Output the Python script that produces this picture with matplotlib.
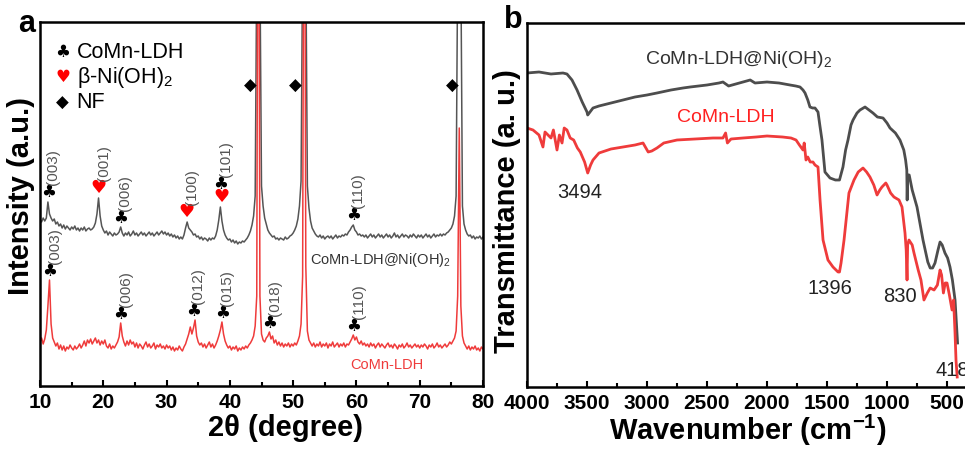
import numpy as np
import matplotlib.pyplot as plt
from matplotlib.ticker import MultipleLocator

plt.rcParams['font.family'] = ['Liberation Sans', 'DejaVu Sans']
plt.rcParams['mathtext.fontset'] = 'custom'
plt.rcParams['mathtext.rm'] = 'Liberation Sans'
plt.rcParams['mathtext.it'] = 'Liberation Sans:italic'
plt.rcParams['mathtext.bf'] = 'Liberation Sans:bold'

# ---------------- XRD data (2theta scan, 0.25 deg step) ----------------
two_theta = np.arange(10, 80.001, 0.25)

xrd_composite = [
    166, 164, 168, 165, 168, 184, 172, 168, 165, 167, 162, 164, 160, 162, 158, 161, 157, 160, 158, 156,  # 10
    159, 157, 160, 156, 158, 155, 158, 156, 159, 155, 157, 158, 156, 157, 159, 163, 172, 188, 170, 160,  # 15
    156, 153, 155, 151, 154, 152, 150, 153, 151, 152, 154, 159, 153, 150, 153, 151, 154, 150, 152, 155,  # 20
    151, 153, 150, 152, 154, 151, 153, 150, 152, 154, 151, 153, 150, 152, 154, 151, 153, 155, 152, 154,  # 25
    151, 153, 150, 152, 149, 151, 148, 150, 147, 149, 147, 151, 158, 164, 158, 156, 154, 151, 152, 149,  # 30
    150, 147, 149, 146, 148, 147, 145, 148, 146, 148, 147, 150, 156, 166, 179, 165, 156, 151, 148, 146,  # 35
    147, 144, 146, 143, 145, 142, 144, 143, 145, 144, 146, 148, 151, 155, 161, 170, 190, 420, 700, 420,  # 40
    200, 180, 168, 162, 156, 153, 151, 149, 150, 147, 148, 146, 148, 147, 146, 149, 147, 148, 150, 151,  # 45
    153, 156, 160, 167, 180, 205, 430, 700, 430, 200, 178, 165, 158, 155, 152, 150, 149, 151, 148, 150,  # 50
    147, 149, 150, 148, 150, 147, 149, 151, 148, 150, 149, 151, 150, 152, 151, 154, 156, 159, 161, 156,  # 55
    154, 151, 152, 150, 151, 149, 151, 148, 150, 152, 149, 151, 148, 150, 152, 149, 151, 148, 150, 152,  # 60
    149, 151, 148, 150, 153, 149, 151, 148, 150, 152, 149, 151, 150, 148, 151, 149, 152, 150, 148, 151,  # 65
    149, 151, 148, 150, 152, 149, 151, 148, 150, 152, 149, 151, 150, 152, 150, 152, 151, 153, 154, 156,  # 70
    158, 162, 170, 190, 420, 700, 420, 180, 162, 156, 152, 150, 151, 148, 150, 147, 149, 148, 150, 147,  # 75
    149,
]

xrd_ldh = [
    44, 48, 42, 47, 56, 80, 106, 62, 48, 44, 40, 43, 37, 41, 36, 40, 35, 39, 37, 41,  # 10
    38, 36, 40, 37, 39, 42, 38, 41, 45, 40, 46, 43, 47, 42, 45, 48, 43, 46, 41, 45,  # 15
    42, 46, 40, 38, 42, 37, 40, 38, 41, 44, 49, 63, 50, 44, 40, 45, 41, 46, 42, 44,  # 20
    39, 43, 38, 42, 40, 37, 41, 44, 39, 42, 38, 40, 43, 37, 41, 39, 42, 38, 40, 37,  # 25
    41, 38, 40, 36, 39, 35, 38, 36, 40, 37, 35, 39, 42, 47, 52, 59, 52, 58, 66, 50,  # 30
    44, 41, 43, 39, 42, 38, 41, 44, 39, 42, 38, 41, 45, 50, 56, 64, 52, 45, 41, 38,  # 35
    40, 36, 39, 37, 40, 35, 38, 36, 39, 37, 40, 38, 41, 43, 46, 50, 60, 90, 700, 90,  # 40
    52, 46, 44, 48, 50, 54, 47, 50, 43, 46, 41, 44, 40, 43, 39, 42, 40, 43, 39, 42,  # 45
    40, 43, 41, 45, 50, 62, 110, 700, 120, 55, 46, 43, 40, 43, 39, 42, 40, 44, 39, 42,  # 50
    40, 43, 38, 42, 40, 44, 39, 41, 43, 39, 42, 40, 43, 39, 42, 41, 44, 47, 51, 46,  # 55
    49, 44, 42, 45, 41, 43, 40, 42, 39, 43, 40, 42, 38, 41, 43, 39, 42, 40, 38, 41,  # 60
    43, 39, 41, 38, 42, 40, 37, 41, 39, 42, 38, 40, 43, 39, 41, 38, 40, 42, 39, 41,  # 65
    38, 41, 39, 42, 40, 37, 41, 39, 42, 38, 40, 43, 39, 41, 38, 40, 42, 39, 41, 44,  # 70
    42, 45, 48, 55, 90, 258, 80, 50, 43, 40, 37, 40, 36, 39, 37, 40, 36, 38, 35, 39,  # 75
    37,
]

# peak indexing
comp_peak_2t = [11.3, 19.3, 22.7, 33.2, 38.6, 59.5]
comp_peak_I = [184, 188, 158, 164, 179, 161]
comp_peak_hkl = ["(003)", "(001)", "(006)", "(100)", "(101)", "(110)"]
comp_peak_phase = ["ldh", "ni", "ldh", "ni", "both", "ldh"]

ldh_peak_2t = [11.5, 22.8, 34.2, 38.8, 46.3, 59.6]
ldh_peak_I = [106, 63, 66, 64, 54, 51]
ldh_peak_hkl = ["(003)", "(006)", "(012)", "(015)", "(018)", "(110)"]

nf_peak_2t = [43.3, 50.4, 75.1]

legend_symbols = ["\u2663", "\u2665", "\u25C6"]
legend_labels = ["CoMn-LDH", r"β-Ni(OH)$_2$", "NF"]
legend_colors = ["black", "red", "black"]

# ---------------- FTIR data ----------------
wn_composite = [4000, 3900, 3800, 3700, 3667, 3625, 3583, 3540, 3500, 3494, 3450, 3400, 3300, 3200,
                3100, 3000, 2917, 2800, 2700, 2640, 2500, 2400, 2367, 2320, 2200, 2140, 2100, 2000,
                1900, 1808, 1760, 1725, 1700, 1683, 1660, 1642, 1620, 1600, 1575, 1560, 1542, 1517,
                1475, 1430, 1396, 1367, 1345, 1325, 1300, 1283, 1250, 1225, 1183, 1150, 1117, 1080,
                1033, 1000, 975, 930, 892, 860, 845, 835, 832, 828, 815, 790, 750, 700, 660, 640,
                620, 600, 575, 558, 540, 517, 495, 475, 455, 433, 412]
ftir_composite = [314, 315, 313, 314, 313, 307, 297, 285, 275, 272, 279, 281, 284, 287,
                  290, 292, 294, 297, 299, 300, 302, 304, 305, 301, 305, 307, 304, 305,
                  304, 302, 301, 300, 297, 294, 287, 280, 279, 279, 275, 262, 247, 215,
                  209, 207, 207, 220, 237, 247, 262, 267, 274, 277, 280, 277, 274, 270,
                  269, 264, 259, 254, 247, 237, 227, 217, 187, 212, 212, 197, 180, 147, 125, 119,
                  119, 124, 137, 145, 142, 134, 129, 120, 107, 87, 44]

wn_ldh = [4000, 3950, 3900, 3867, 3850, 3800, 3780, 3750, 3730, 3708, 3690, 3667, 3640, 3611,
          3580, 3556, 3520, 3494, 3470, 3450, 3400, 3300, 3200, 3100, 3033, 2990, 2960, 2917,
          2860, 2750, 2600, 2450, 2367, 2345, 2330, 2300, 2200, 2090, 2000, 1870, 1800, 1758,
          1730, 1700, 1690, 1675, 1660, 1640, 1617, 1600, 1575, 1558, 1533, 1492, 1450, 1408,
          1396, 1383, 1358, 1317, 1275, 1240, 1200, 1170, 1142, 1110, 1083, 1060, 1042, 1010,
          1000, 970, 942, 900, 875, 850, 840, 833, 828, 817, 790, 775, 740, 717, 692, 664,
          640, 608, 580, 558, 545, 530, 515, 500, 480, 458, 445, 433, 425, 415]
ftir_ldh = [259, 257, 252, 240, 255, 249, 257, 237, 252, 244, 259, 257, 249, 247,
            239, 235, 225, 214, 222, 227, 234, 238, 240, 242, 244, 235, 236, 239,
            244, 247, 248, 249, 249, 254, 244, 248, 249, 250, 251, 250, 249, 247,
            242, 237, 244, 227, 230, 225, 225, 222, 220, 187, 147, 127, 120, 115,
            115, 124, 147, 194, 207, 215, 219, 215, 210, 202, 192, 197, 200, 204,
            202, 194, 190, 187, 180, 154, 137, 107, 142, 147, 142, 134, 117, 107, 87, 94,
            99, 97, 102, 117, 112, 94, 104, 104, 92, 77, 87, 54, 27, 10]

ftir_marks = [3494, 1396, 830, 418]
ftir_mark_y = [194, 99, 90, 17]

# ---------------- figure ----------------
W, H = 965, 449
fig = plt.figure(figsize=(W / 100, H / 100), dpi=100)


def box(x0, y0, x1, y1):
    return [x0 / W, 1 - y1 / H, (x1 - x0) / W, (y1 - y0) / H]


def fpos(x, y):
    return x / W, 1 - y / H


gray = "#555555"
red = "#ef3b3b"
sym_font = "DejaVu Sans"

# ---- panel a ----
ax1 = fig.add_axes(box(40, 22, 483, 386))
ax1.plot(two_theta, xrd_composite, color=gray, lw=1.1)
ax1.plot(two_theta, xrd_ldh, color=red, lw=1.1)
ax1.set_xlim(10, 80)
ax1.set_ylim(0, 364)

for x, y, hkl, ph in zip(comp_peak_2t, comp_peak_I, comp_peak_hkl, comp_peak_phase):
    ys = y + 10
    if ph == "ldh":
        ax1.text(x, ys, "\u2663", ha='center', va='center', fontsize=12, family=sym_font, color='black')
        top = ys + 7
    elif ph == "ni":
        ax1.text(x, ys, "\u2665", ha='center', va='center', fontsize=13, family=sym_font, color='red')
        top = ys + 7
    else:
        ax1.text(x, ys, "\u2665", ha='center', va='center', fontsize=13, family=sym_font, color='red')
        ax1.text(x, ys + 13, "\u2663", ha='center', va='center', fontsize=12, family=sym_font, color='black')
        top = ys + 20
    ax1.text(x + 0.8, top, hkl, rotation=90, ha='center', va='bottom', fontsize=11, color=gray)

for x, y, hkl in zip(ldh_peak_2t, ldh_peak_I, ldh_peak_hkl):
    ys = y + 9
    ax1.text(x, ys, "\u2663", ha='center', va='center', fontsize=12, family=sym_font, color='black')
    ax1.text(x + 0.8, ys + 7, hkl, rotation=90, ha='center', va='bottom', fontsize=11, color=gray)

for x in nf_peak_2t:
    ax1.text(x, 300, "\u25C6", ha='center', va='center', fontsize=12, family=sym_font, color='black')

for i, (s, lab, c) in enumerate(zip(legend_symbols, legend_labels, legend_colors)):
    y = 334 - 25.5 * i
    ax1.text(13.6, y, s, ha='center', va='center', fontsize=12, family=sym_font, color=c)
    ax1.text(15.8, y, lab, ha='left', va='center', fontsize=15.5)

ax1.text(52.6, 126, r"CoMn-LDH@Ni(OH)$_2$", ha='left', va='center', fontsize=10.5, color="#333333")
ax1.text(64.8, 21, "CoMn-LDH", ha='center', va='center', fontsize=10.5, color=red)

ax1.xaxis.set_major_locator(MultipleLocator(10))
ax1.xaxis.set_minor_locator(MultipleLocator(5))
ax1.set_yticks([])

# ---- panel b ----
ax2 = fig.add_axes(box(527, 23, 972, 387))
ax2.plot(wn_composite, ftir_composite, color="#4d4d4d", lw=2.0)
ax2.plot(wn_ldh, ftir_ldh, color=red, lw=2.0)
ax2.set_xlim(4000, 4000 - (972 - 527) / 0.12)
ax2.set_ylim(0, 364)

ax2.text(3017, 327, r"CoMn-LDH@Ni(OH)$_2$", ha='left', va='center', fontsize=14, color="#333333")
ax2.text(2750, 270, "CoMn-LDH", ha='left', va='center', fontsize=14, color="#ff2020")
mark_x = [3558, 1475, 892, 600]
for m, xt, yt in zip(ftir_marks, mark_x, ftir_mark_y):
    ax2.text(xt, yt, str(m), ha='center' if m != 418 else 'left', va='center', fontsize=14.5, color='#222222')

ax2.xaxis.set_major_locator(MultipleLocator(500))
ax2.xaxis.set_minor_locator(MultipleLocator(250))
ax2.set_yticks([])

for ax in (ax1, ax2):
    for sp in ax.spines.values():
        sp.set_linewidth(1.8)
    ax.tick_params(axis='x', which='major', direction='in', length=4, width=1.5,
                   labelsize=15, pad=5)
    ax.tick_params(axis='x', which='minor', direction='in', length=3, width=1.5)
    for lbl in ax.get_xticklabels():
        lbl.set_fontweight('bold')

# axis titles and panel letters
fig.text(*fpos(21, 196), "Intensity (a.u.)", rotation=90, ha='center', va='center',
         fontsize=21, fontweight='bold')
fig.text(*fpos(286, 428), "2θ (degree)", ha='center', va='center', fontsize=21, fontweight='bold')
fig.text(*fpos(507, 211), "Transmittance (a. u.)", rotation=90, ha='center', va='center',
         fontsize=21, fontweight='bold')
fig.text(*fpos(748, 430), r"Wavenumber (cm$^{\mathbf{-1}}$)", ha='center', va='center',
         fontsize=21, fontweight='bold')
fig.text(*fpos(27, 24), "a", ha='center', va='center', fontsize=22, fontweight='bold')
fig.text(*fpos(513, 20), "b", ha='center', va='center', fontsize=22, fontweight='bold')

fig.savefig("out.png", dpi=100)
